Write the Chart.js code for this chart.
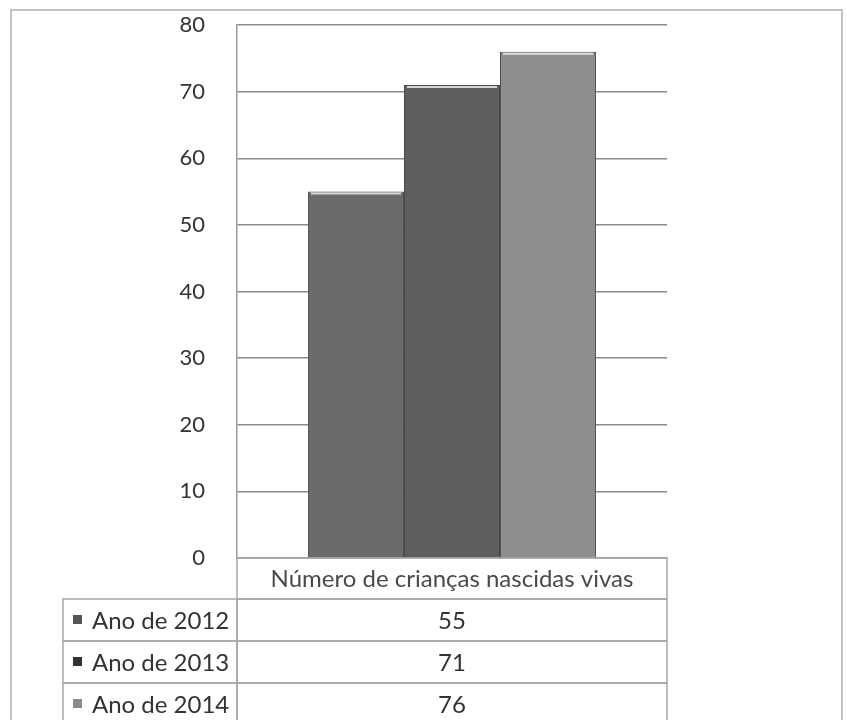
<!DOCTYPE html>
<html>
<head>
<meta charset="utf-8">
<script src="https://cdn.jsdelivr.net/npm/chart.js@4.4.1/dist/chart.umd.min.js"></script>
<style>
  html, body { margin: 0; padding: 0; background: #fff; }
  #wrap { position: relative; width: 847px; height: 720px; }
</style>
</head>
<body>
<div id="wrap"><canvas id="chart" width="847" height="720"></canvas></div>
<script>
const categories = ['Número de crianças nascidas vivas'];
const seriesNames = ['Ano de 2012', 'Ano de 2013', 'Ano de 2014'];
const seriesValues = [[55], [71], [76]];
const seriesColors = ['#6b6b6b', '#5e5e5e', '#8e8e8e'];
const markerColors = ['#555555', '#333333', '#8a8a8a'];
const yTicks = [0, 10, 20, 30, 40, 50, 60, 70, 80];

const FONT = 'Lato, "Open Sans", sans-serif';
const ROW_H = 42;
const LEGEND_COL_W = 174;

// soft horizontal shading so each bar looks a little bevelled
function barFill(ctx) {
  const base = seriesColors[ctx.datasetIndex];
  const el = ctx.element;
  if (!ctx.chart.chartArea || !el || el.width === undefined) return base;
  const l = el.x - el.width / 2, r = el.x + el.width / 2;
  const g = ctx.chart.ctx.createLinearGradient(l, 0, r, 0);
  g.addColorStop(0, 'rgba(60,60,60,1)');
  g.addColorStop(0.06, base);
  g.addColorStop(0.94, base);
  g.addColorStop(1, 'rgba(60,60,60,1)');
  return g;
}

// light edge on top of each bar
const barHighlight = {
  id: 'barHighlight',
  afterDatasetsDraw(chart) {
    const c = chart.ctx;
    c.save();
    chart.data.datasets.forEach((ds, i) => {
      chart.getDatasetMeta(i).data.forEach(bar => {
        const l = bar.x - bar.width / 2, r = bar.x + bar.width / 2;
        c.strokeStyle = 'rgba(235,235,235,0.85)';
        c.lineWidth = 2;
        c.beginPath();
        c.moveTo(l + 3, bar.y + 2);
        c.lineTo(r - 3, bar.y + 2);
        c.stroke();
      });
    });
    c.restore();
  }
};

// data table under the plot: category header, one row per series
const dataTable = {
  id: 'dataTable',
  afterDraw(chart) {
    const c = chart.ctx;
    const a = chart.chartArea;
    const top = a.bottom;
    const left = a.left - LEGEND_COL_W;
    const mid = (a.left + a.right) / 2;
    c.save();
    c.strokeStyle = '#a8a8a8';
    c.lineWidth = 1.5;
    c.strokeRect(a.left, top, a.right - a.left, ROW_H - 1);
    c.fillStyle = '#4a4a4a';
    c.font = '24px ' + FONT;
    c.textAlign = 'center';
    c.textBaseline = 'middle';
    c.fillText(categories[0], mid, top + ROW_H / 2);
    seriesNames.forEach((name, i) => {
      const y = top + ROW_H - 1 + i * ROW_H;
      c.strokeRect(left, y, LEGEND_COL_W, ROW_H);
      c.strokeRect(a.left, y, a.right - a.left, ROW_H);
      c.fillStyle = markerColors[i];
      c.fillRect(left + 10, y + ROW_H / 2 - 5, 9, 9);
      c.fillStyle = '#333';
      c.textAlign = 'left';
      c.fillText(name, left + 29, y + ROW_H / 2 + 1);
      c.textAlign = 'center';
      c.fillText(String(seriesValues[i][0]), mid, y + ROW_H / 2 + 1);
    });
    c.restore();
  }
};

// thin frame around the whole figure
const frame = {
  id: 'frame',
  beforeDraw(chart) {
    const c = chart.ctx;
    c.save();
    c.strokeStyle = '#c4c4c4';
    c.lineWidth = 2;
    c.strokeRect(11, 10, 831, 730);
    c.restore();
  }
};

new Chart(document.getElementById('chart'), {
  type: 'bar',
  data: {
    labels: categories,
    datasets: seriesNames.map((name, i) => ({
      label: name,
      data: seriesValues[i],
      backgroundColor: barFill,
      borderColor: '#4a4a4a',
      borderWidth: 1,
      categoryPercentage: 0.67,
      barPercentage: 1
    }))
  },
  options: {
    responsive: false,
    animation: false,
    layout: { padding: { left: 137, right: 180, top: 25, bottom: 162 } },
    plugins: { legend: { display: false }, tooltip: { enabled: false } },
    scales: {
      x: { display: false },
      y: {
        min: 0,
        max: 80,
        // fixed axis width; the large label gap should not push the plot down
        afterFit: s => { s.width = 100; s.paddingTop = 0; s.paddingBottom = 0; },
        afterBuildTicks: s => { s.ticks = yTicks.map(v => ({ value: v })); },
        ticks: { color: '#333', padding: 32, font: { family: FONT, size: 22 } },
        grid: { color: '#8c8c8c', lineWidth: 1.5, drawTicks: false },
        border: { display: true, color: '#9a9a9a', width: 1.5 }
      }
    }
  },
  plugins: [frame, barHighlight, dataTable]
});
</script>
</body>
</html>
